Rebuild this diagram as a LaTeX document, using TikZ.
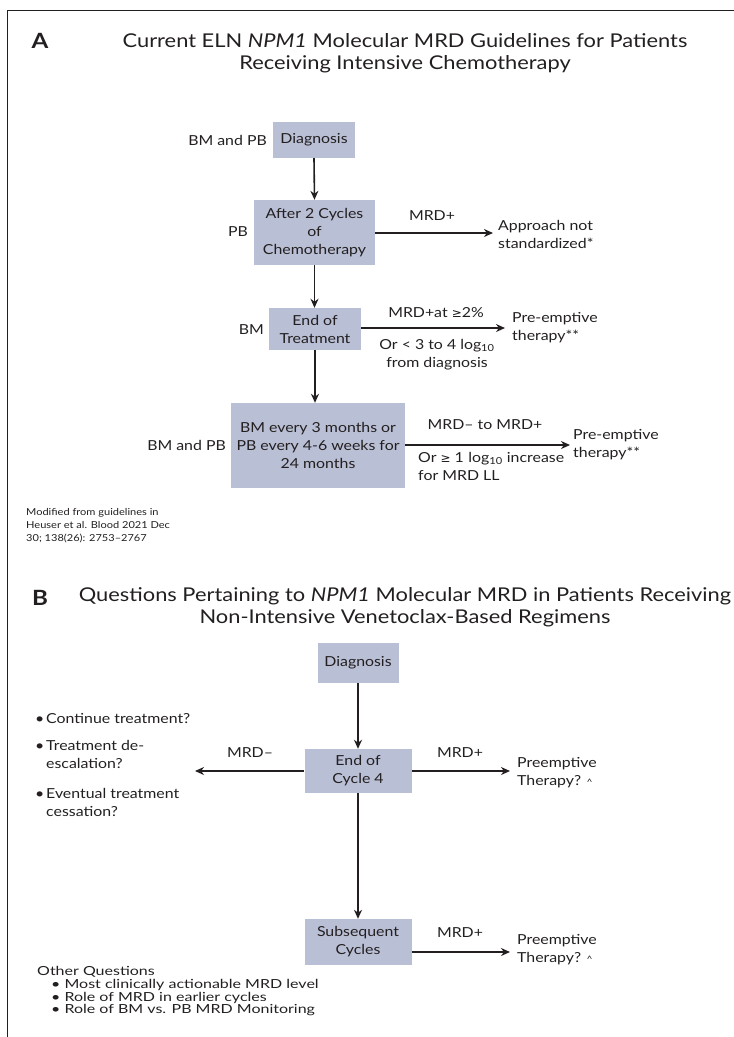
\documentclass[tikz,border=0pt]{standalone}
\usepackage{fontspec}
\setmainfont{Lato}[FakeStretch=1.15]
\newfontfamily\oqf{Lato}[FakeStretch=1.28]
\newfontfamily\symf{DejaVu Sans}
\usetikzlibrary{arrows.meta}
\definecolor{boxc}{RGB}{185,191,213}
\definecolor{txt}{RGB}{35,31,32}
\newcommand{\bul}{\makebox[11pt][l]{\textbullet}}
\newcommand{\nobul}{\hspace*{11pt}}
\begin{document}
\begin{tikzpicture}[x=1pt,y=-1pt,
  every node/.style={text=txt, inner sep=0pt},
  base/.style={font=\fontsize{13.8}{18}\selectfont, align=center},
  box/.style={base, fill=boxc},
  ttl/.style={font=\fontsize{19}{22}\selectfont, align=center},
  panel/.style={font=\fontsize{21}{24}\selectfont\bfseries},
  arr/.style={-{Stealth[length=9pt,width=8pt]}, line width=1.6pt, draw=txt},
  small/.style={font=\fontsize{9.6}{13}\selectfont, align=left},
  oq/.style={font=\oqf\fontsize{12.5}{12.5}\selectfont}
]
\useasboundingbox (0,0) rectangle (734,1037);
\draw[line width=1pt, draw=txt] (7,1037) -- (7,10) -- (734,10);

% Panel A
\node[panel] (pA) at (40,41) {A};
\node[ttl] (tA) at (405,53) {Current ELN \textit{NPM1} Molecular MRD Guidelines for Patients\\Receiving Intensive Chemotherapy};

\node[box, minimum width=82pt, minimum height=36pt] (dA) at (314,140) {Diagnosis};
\node[box, minimum width=121pt, minimum height=65pt] (c2) at (314.5,232.5) {After 2 Cycles\\of\\Chemotherapy};
\node[box, minimum width=92pt, minimum height=42pt] (eot) at (315,329) {End of\\Treatment};
\node[box, minimum width=174pt, minimum height=85pt] (mon) at (318,445.5) {BM every 3 months or\\PB every 4-6 weeks for\\24 months};

\node[base, anchor=east] (l1) at (267,140) {BM and PB};
\node[base, anchor=east] (l2) at (248,232) {PB};
\node[base, anchor=east] (l3) at (264,330) {BM};
\node[base, anchor=east] (l4) at (226,445) {BM and PB};

\coordinate (e1) at (493,233);
\coordinate (e2) at (505,328);
\coordinate (e3) at (570,445);

\draw[arr] (dA.south) -- (c2.north);
\draw[arr] (c2.south) -- (c2.south |- eot.north);
\draw[arr] (eot.south) -- (eot.south |- mon.north);
\draw[arr] (c2.east |- e1) -- (e1);
\draw[arr] (eot.east |- e2) -- (e2);
\draw[arr] (mon.east |- e3) -- (e3);

\node[base] (m1) at (432,216) {MRD+};
\node[base, anchor=west, align=left] (r1) at (498,234) {Approach not\\standardized*};
\node[base] (m2) at (436,313) {MRD+at {\symf\fontsize{12}{12}\selectfont ≥}2\%};
\node[base] (m2b) at (437,355) {Or < 3 to 4 log\textsubscript{10}\\from diagnosis};
\node[base, anchor=west, align=left] (r2) at (512,328) {Pre-emptive\\therapy**};
\node[base] (m3) at (485,425) {MRD– to MRD+};
\node[base, anchor=north west, align=left] (m3b) at (418,452) {Or {\symf\fontsize{12}{12}\selectfont ≥} 1\,\,log\textsubscript{10} increase\\for MRD LL};
\node[base, anchor=west, align=left] (r3) at (573,445) {Pre-emptive\\therapy**};

\node[small, anchor=north west] (fn) at (26,508) {Modified from guidelines in\\Heuser et al. Blood 2021 Dec\\30; 138(26): 2753–2767};

% Panel B
\node[panel] (pB) at (40,598) {B};
\node[ttl] (tB) at (405,607) {Questions Pertaining to \textit{NPM1} Molecular MRD in Patients Receiving\\Non-Intensive Venetoclax-Based Regimens};

\node[box, minimum width=81pt, minimum height=40pt] (dB) at (358,663) {Diagnosis};
\node[box, minimum width=107pt, minimum height=44pt] (c4) at (358,771) {End of\\Cycle 4};
\node[box, minimum width=107pt, minimum height=46pt] (sub) at (358,942) {Subsequent\\Cycles};

\coordinate (wL) at (195,771);
\coordinate (wR) at (510,771);
\coordinate (wS) at (510,952);

\draw[arr] (dB.south) -- (c4.north);
\draw[arr] (c4.south) -- (sub.north);
\draw[arr] (c4.west) -- (wL);
\draw[arr] (c4.east) -- (wR);
\draw[arr] (sub.east |- wS) -- (wS);

\node[base] (n1) at (250,753) {MRD–};
\node[base] (n2) at (460,753) {MRD+};
\node[base] (n3) at (460,933) {MRD+};
\node[base, anchor=west, align=left] (p1) at (517,773) {Preemptive\\Therapy? {\fontsize{9}{9}\selectfont\textasciicircum}};
\node[base, anchor=west, align=left] (p2) at (517,950) {Preemptive\\Therapy? {\fontsize{9}{9}\selectfont\textasciicircum}};

\node[base, anchor=west, align=left] (q1) at (35,718) {\bul Continue treatment?};
\node[base, anchor=west, align=left] (q2) at (35,754) {\bul Treatment de-\\\nobul escalation?};
\node[base, anchor=west, align=left] (q3) at (35,802) {\bul Eventual treatment\\\nobul cessation?};

\node[oq, anchor=west] (oq) at (37,972) {Other Questions};
\node[oq, anchor=west] (o1) at (51,985) {\textbullet\ Most clinically actionable MRD level};
\node[oq, anchor=west] (o2) at (51,997.5) {\textbullet\ Role of MRD in earlier cycles};
\node[oq, anchor=west] (o3) at (51,1010) {\textbullet\ Role of BM vs. PB MRD Monitoring};
\end{tikzpicture}
\end{document}
